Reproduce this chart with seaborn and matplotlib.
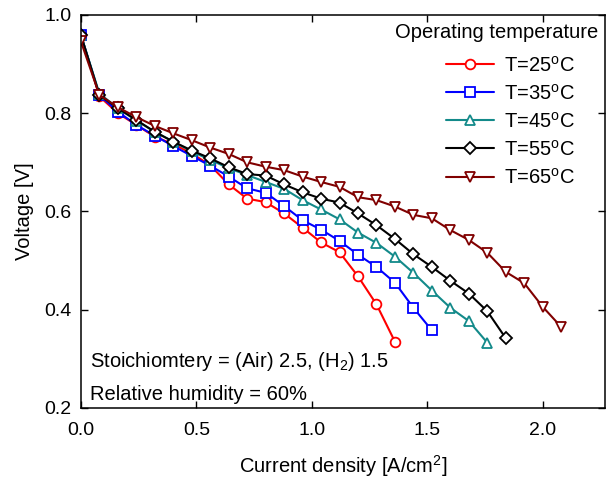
import numpy as np
import pandas as pd
import matplotlib
matplotlib.use('Agg')
import matplotlib.pyplot as plt
import seaborn as sns

# current density points (A/cm2), spaced 0.08
current = [0.00, 0.08, 0.16, 0.24, 0.32, 0.40, 0.48, 0.56, 0.64, 0.72, 0.80,
           0.88, 0.96, 1.04, 1.12, 1.20, 1.28, 1.36, 1.44, 1.52, 1.60, 1.68,
           1.76, 1.84, 1.92, 2.00, 2.08]

v25 = [0.959, 0.834, 0.800, 0.776, 0.752, 0.737, 0.718, 0.694, 0.655, 0.626,
       0.619, 0.596, 0.567, 0.537, 0.517, 0.468, 0.411, 0.335]
v35 = [0.959, 0.837, 0.803, 0.776, 0.754, 0.733, 0.713, 0.693, 0.671, 0.647,
       0.638, 0.611, 0.582, 0.563, 0.540, 0.512, 0.487, 0.455, 0.404, 0.358]
v45 = [0.959, 0.840, 0.810, 0.785, 0.762, 0.742, 0.722, 0.705, 0.688, 0.674,
       0.660, 0.646, 0.623, 0.604, 0.584, 0.557, 0.536, 0.508, 0.475, 0.439,
       0.404, 0.377, 0.333]
v55 = [0.959, 0.837, 0.810, 0.786, 0.762, 0.742, 0.724, 0.708, 0.690, 0.676,
       0.673, 0.655, 0.639, 0.626, 0.618, 0.596, 0.572, 0.544, 0.513, 0.487,
       0.459, 0.433, 0.397, 0.342]
v65 = [0.946, 0.837, 0.812, 0.792, 0.774, 0.759, 0.745, 0.730, 0.717, 0.700,
       0.691, 0.684, 0.671, 0.660, 0.650, 0.629, 0.623, 0.610, 0.593, 0.586,
       0.562, 0.542, 0.516, 0.477, 0.454, 0.406, 0.365]

labels = ['T=25$^{\\rm o}$C', 'T=35$^{\\rm o}$C', 'T=45$^{\\rm o}$C',
          'T=55$^{\\rm o}$C', 'T=65$^{\\rm o}$C']
series = [v25, v35, v45, v55, v65]
colors = ['#ff0000', '#0000ff', '#138a8a', '#000000', '#800000']
markers = ['o', 's', '^', 'D', 'v']

sns.set_style('ticks')
plt.rcParams['font.family'] = ['Liberation Sans', 'DejaVu Sans']
plt.rcParams['mathtext.fontset'] = 'custom'
plt.rcParams['mathtext.rm'] = 'Liberation Sans'
plt.rcParams['mathtext.it'] = 'Liberation Sans:italic'
plt.rcParams['text.color'] = 'black'
plt.rcParams['axes.labelcolor'] = 'black'
plt.rcParams['axes.edgecolor'] = 'black'
plt.rcParams['xtick.color'] = 'black'
plt.rcParams['ytick.color'] = 'black'

fig = plt.figure(figsize=(6.13, 4.80), dpi=100)
ax = fig.add_axes([0.132, 0.15, 0.855, 0.819])

for lab, vals, c, m in zip(labels, series, colors, markers):
    df = pd.DataFrame({'j': current[:len(vals)], 'V': vals})
    sz = 6 if m == 'D' else 7
    sns.lineplot(data=df, x='j', y='V', ax=ax, color=c, marker=m, label=lab,
                 markersize=sz, markerfacecolor='white', markeredgecolor=c,
                 markeredgewidth=1.3, linewidth=1.5)

ax.set_xlim(0, 2.27)
ax.set_ylim(0.2, 1.0)
ax.set_xticks([0.0, 0.5, 1.0, 1.5, 2.0])
ax.set_yticks([0.2, 0.4, 0.6, 0.8, 1.0])
ax.set_xticklabels(['0.0', '0.5', '1.0', '1.5', '2.0'])
ax.set_yticklabels(['0.2', '0.4', '0.6', '0.8', '1.0'])
ax.tick_params(direction='in', top=True, right=True, length=5, labelsize=14,
               width=1)
ax.tick_params(axis='x', pad=10)
ax.tick_params(axis='y', pad=7)
for s in ax.spines.values():
    s.set_linewidth(1.1)
    s.set_visible(True)

ax.set_xlabel('Current density [A/cm$^2$]', fontsize=14.5, labelpad=10)
ax.set_ylabel('Voltage [V]', fontsize=14.5, labelpad=7)

# legend entries without title; title placed as its own text
leg = ax.legend(loc='upper right', bbox_to_anchor=(0.943, 0.897),
                frameon=False, fontsize=14.5, handlelength=2.4,
                labelspacing=0.4, borderaxespad=0, borderpad=0,
                handletextpad=0.5)
ax.text(0.987, 0.954, 'Operating temperature', fontsize=14.5,
        transform=ax.transAxes, ha='right', va='center')

ax.text(0.04, 0.283, 'Stoichiomtery = (Air) 2.5, (H$_2$) 1.5', fontsize=14.5)
ax.text(0.04, 0.217, 'Relative humidity = 60%', fontsize=14.5)

fig.savefig('out.png', dpi=100)
